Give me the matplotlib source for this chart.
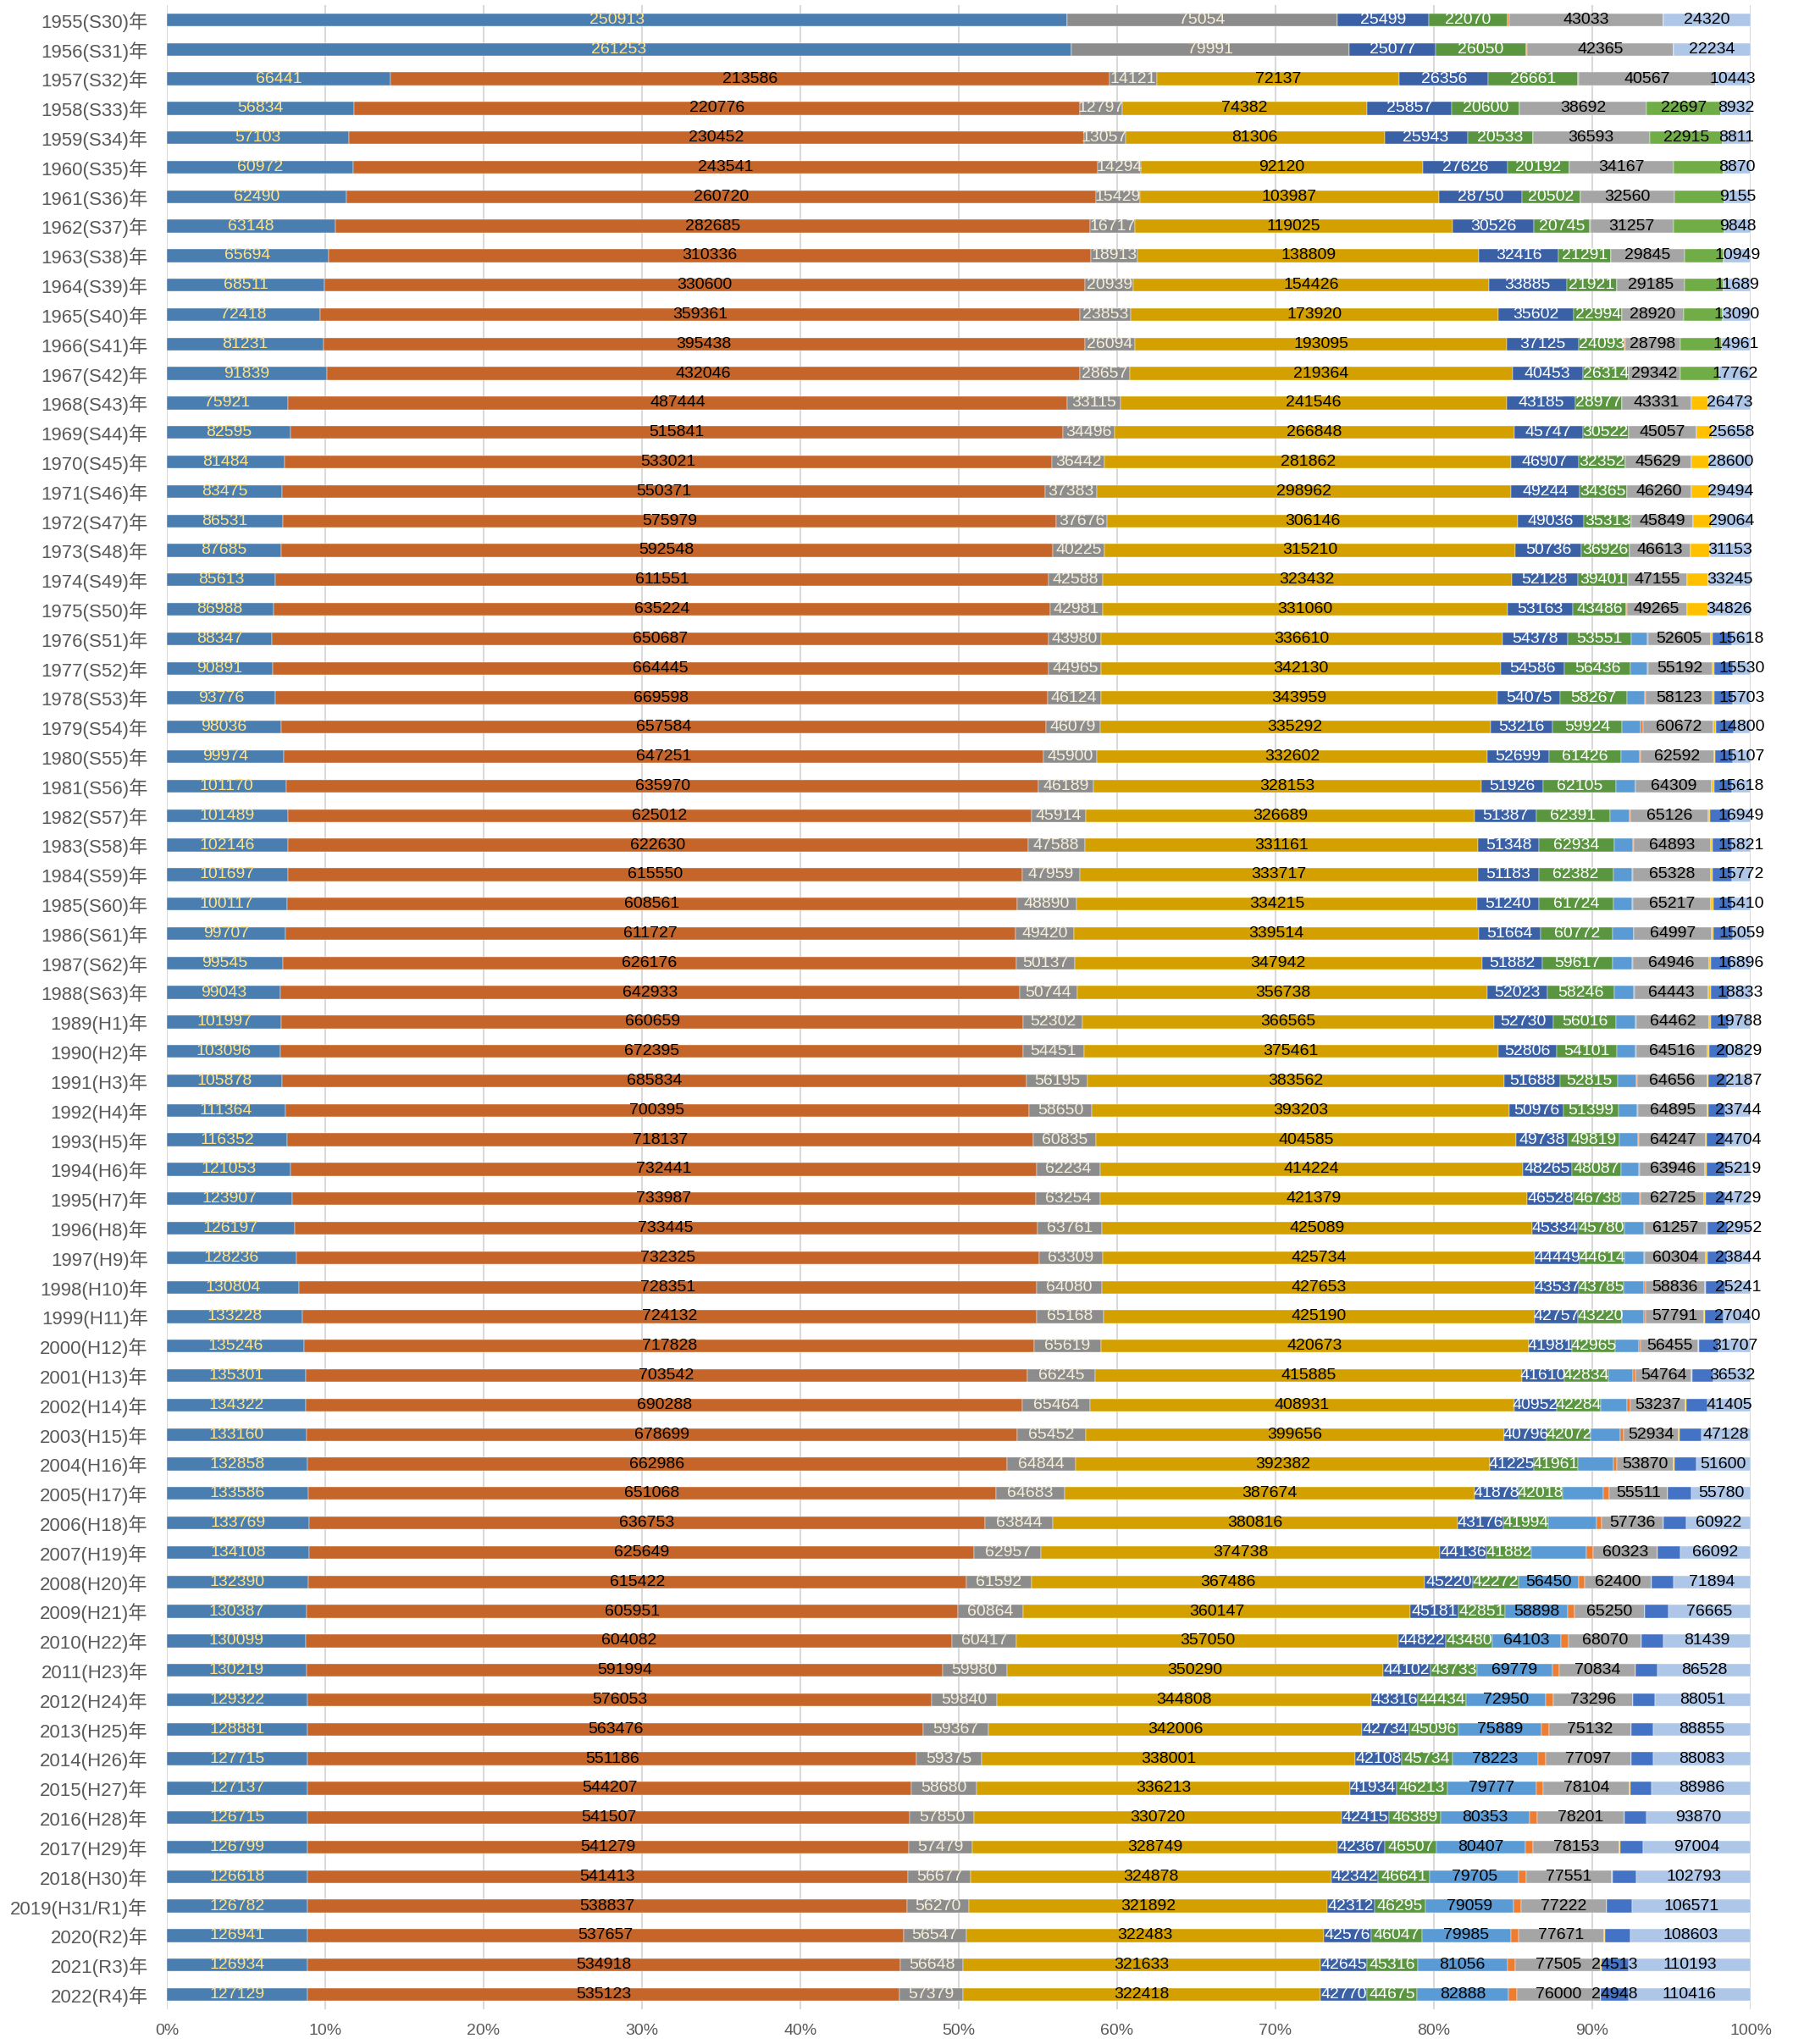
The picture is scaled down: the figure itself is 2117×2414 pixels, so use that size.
import numpy as np
import matplotlib.pyplot as plt

plt.rcParams['font.family'] = ['Liberation Sans', 'Noto Sans CJK JP', 'DejaVu Sans']

years = list(range(1955, 2023))

def era(y):
    if y <= 1988:
        return "S%d" % (y - 1925)
    if y <= 2018:
        return "H%d" % (y - 1988)
    if y == 2019:
        return "H31/R1"
    return "R%d" % (y - 2018)

year_labels = ["%d(%s)年" % (y, era(y)) for y in years]

# series values, 1955 .. 2022 (unlabeled thin pieces estimated)
s_steel = [250913, 261253, 66441, 56834, 57103, 60972, 62490, 63148, 65694, 68511, 72418, 81231, 91839,
           75921, 82595, 81484, 83475, 86531, 87685, 85613, 86988, 88347, 90891, 93776, 98036, 99974,
           101170, 101489, 102146, 101697, 100117, 99707, 99545, 99043, 101997, 103096, 105878, 111364,
           116352, 121053, 123907, 126197, 128236, 130804, 133228, 135246, 135301, 134322, 133160, 132858,
           133586, 133769, 134108, 132390, 130387, 130099, 130219, 129322, 128881, 127715, 127137, 126715,
           126799, 126618, 126782, 126941, 126934, 127129]
s_rust = [0, 0, 213586, 220776, 230452, 243541, 260720, 282685, 310336, 330600, 359361, 395438, 432046,
          487444, 515841, 533021, 550371, 575979, 592548, 611551, 635224, 650687, 664445, 669598, 657584,
          647251, 635970, 625012, 622630, 615550, 608561, 611727, 626176, 642933, 660659, 672395, 685834,
          700395, 718137, 732441, 733987, 733445, 732325, 728351, 724132, 717828, 703542, 690288, 678699,
          662986, 651068, 636753, 625649, 615422, 605951, 604082, 591994, 576053, 563476, 551186, 544207,
          541507, 541279, 541413, 538837, 537657, 534918, 535123]
s_dgray = [75054, 79991, 14121, 12797, 13057, 14294, 15429, 16717, 18913, 20939, 23853, 26094, 28657,
           33115, 34496, 36442, 37383, 37676, 40225, 42588, 42981, 43980, 44965, 46124, 46079, 45900,
           46189, 45914, 47588, 47959, 48890, 49420, 50137, 50744, 52302, 54451, 56195, 58650, 60835,
           62234, 63254, 63761, 63309, 64080, 65168, 65619, 66245, 65464, 65452, 64844, 64683, 63844,
           62957, 61592, 60864, 60417, 59980, 59840, 59367, 59375, 58680, 57850, 57479, 56677, 56270,
           56547, 56648, 57379]
s_gold = [0, 0, 72137, 74382, 81306, 92120, 103987, 119025, 138809, 154426, 173920, 193095, 219364,
          241546, 266848, 281862, 298962, 306146, 315210, 323432, 331060, 336610, 342130, 343959, 335292,
          332602, 328153, 326689, 331161, 333717, 334215, 339514, 347942, 356738, 366565, 375461, 383562,
          393203, 404585, 414224, 421379, 425089, 425734, 427653, 425190, 420673, 415885, 408931, 399656,
          392382, 387674, 380816, 374738, 367486, 360147, 357050, 350290, 344808, 342006, 338001, 336213,
          330720, 328749, 324878, 321892, 322483, 321633, 322418]
s_mblue = [25499, 25077, 26356, 25857, 25943, 27626, 28750, 30526, 32416, 33885, 35602, 37125, 40453,
           43185, 45747, 46907, 49244, 49036, 50736, 52128, 53163, 54378, 54586, 54075, 53216, 52699,
           51926, 51387, 51348, 51183, 51240, 51664, 51882, 52023, 52730, 52806, 51688, 50976, 49738,
           48265, 46528, 45334, 44449, 43537, 42757, 41981, 41610, 40952, 40796, 41225, 41878, 43176,
           44136, 45220, 45181, 44822, 44102, 43316, 42734, 42108, 41934, 42415, 42367, 42342, 42312,
           42576, 42645, 42770]
s_green = [22070, 26050, 26661, 20600, 20533, 20192, 20502, 20745, 21291, 21921, 22994, 24093, 26314,
           28977, 30522, 32352, 34365, 35313, 36926, 39401, 43486, 53551, 56436, 58267, 59924, 61426,
           62105, 62391, 62934, 62382, 61724, 60772, 59617, 58246, 56016, 54101, 52815, 51399, 49819,
           48087, 46738, 45780, 44614, 43785, 43220, 42965, 42834, 42284, 42072, 41961, 42018, 41994,
           41882, 42272, 42851, 43480, 43733, 44434, 45096, 45734, 46213, 46389, 46507, 46641, 46295,
           46047, 45316, 44675]
s_lblue = [0] * 21 + [13500, 14500, 15100, 16000, 16200, 16200, 16400, 16000, 16100, 16000, 17300, 17100,
                      17200, 17600, 17400, 16900, 17900, 18300, 17500, 18100, 18900, 18700, 20300, 21500,
                      22800, 24300, 26000, 28300, 33400, 38300, 45400, 51800, 56450, 58898, 64103, 69779,
                      72950, 75889, 78223, 79777, 80353, 80407, 79705, 79059, 79985, 81056, 82888]
s_orange = [300, 300, 300, 0, 0, 0, 0, 300, 0, 0, 0, 200, 200, 200, 200, 200, 200, 200, 200, 200, 400,
            300, 300, 500, 2200, 500, 400, 400, 400, 400, 400, 400, 400, 500, 600, 600, 600, 600, 800,
            1200, 1200, 800, 1200, 1200, 1400, 2200, 2200, 2700, 2600, 3300, 5400, 5400, 6700, 5800,
            6200, 7000, 6900, 7300, 7200, 6800, 6400, 6700, 6700, 6700, 6700, 6700, 7000, 7200]
s_lgray = [43033, 42365, 40567, 38692, 36593, 34167, 32560, 31257, 29845, 29185, 28920, 28798, 29342,
           43331, 45057, 45629, 46260, 45849, 46613, 47155, 49265, 52605, 55192, 58123, 60672, 62592,
           64309, 65126, 64893, 65328, 65217, 64997, 64946, 64443, 64462, 64516, 64656, 64895, 64247,
           63946, 62725, 61257, 60304, 58836, 57791, 56455, 54764, 53237, 52934, 53870, 55511, 57736,
           60323, 62400, 65250, 68070, 70834, 73296, 75132, 77097, 78104, 78201, 78153, 77551, 77222,
           77671, 77505, 76000]
s_bgreen = [0, 0, 0, 22697, 22915, 16400, 17500, 19000, 16100, 17200, 18700, 21400, 22700] + [0] * 55
s_yellow = [0] * 13 + [10600, 10800, 12700, 13300, 13900, 15200, 16800, 17300, 1700, 1700, 1900, 1900,
                       1400, 1700, 1900, 1700, 1900, 1600, 1600, 1900, 1700, 1800, 1600, 1300, 1000, 1000,
                       1200, 1200, 900, 1000, 800, 900, 500, 500, 500, 500, 500, 200, 300, 200, 200, 200,
                       200, 200, 200, 200, 200, 200, 200, 200, 300, 200, 200, 200, 200]
s_rblue = [0] * 21 + [16100, 15700, 15600, 15000, 14900, 15500, 17100, 16200, 15900, 16000, 16100, 16900,
                      16000, 15600, 16400, 16700, 16300, 17400, 18300, 19800, 19800, 19200, 19200, 18100,
                      19500, 20400, 21000, 21000, 20900, 22400, 21200, 21600, 20600, 21800, 20600, 20500,
                      20300, 20200, 20000, 19800, 19800, 20700, 21900, 22600, 23100, 24513, 24948]
s_pblue = [24320, 22234, 10443, 8932, 8811, 8870, 9155, 9848, 10949, 11689, 13090, 14961, 17762, 26473,
           25658, 28600, 29494, 29064, 31153, 33245, 34826, 15618, 15530, 15703, 14800, 15107, 15618,
           16949, 15821, 15772, 15410, 15059, 16896, 18833, 19788, 20829, 22187, 23744, 24704, 25219,
           24729, 22952, 23844, 25241, 27040, 31707, 36532, 41405, 47128, 51600, 55780, 60922, 66092,
           71894, 76665, 81439, 86528, 88051, 88855, 88083, 88986, 93870, 97004, 102793, 106571, 108603,
           110193, 110416]

# (values, fill colour, label colour, first..last year with a label)
series = [
    (s_steel, '#4A7EB1', '#FFE38A', 1955, 2022),
    (s_rust, '#C5652A', 'black', 1955, 2022),
    (s_dgray, '#8C8C8C', '#F6EED8', 1955, 2022),
    (s_gold, '#D4A000', 'black', 1955, 2022),
    (s_mblue, '#3A60A6', 'white', 1955, 2022),
    (s_green, '#5A9540', 'white', 1955, 2022),
    (s_lblue, '#5B9BD5', 'black', 2008, 2022),
    (s_orange, '#ED7D31', 'black', 0, 0),
    (s_lgray, '#A5A5A5', 'black', 1955, 2022),
    (s_bgreen, '#70AD47', 'black', 1958, 1959),
    (s_yellow, '#FFC000', 'black', 0, 0),
    (s_rblue, '#4472C4', 'black', 2021, 2022),
    (s_pblue, '#AEC7E8', 'black', 1955, 2022),
]

for s in series:
    assert len(s[0]) == len(years)

vals = np.array([s[0] for s in series], dtype=float)
total = vals.sum(axis=0)
pct = vals / total * 100

fig = plt.figure(figsize=(21.17, 24.14), dpi=100)
ax = fig.add_axes([0.093, 0.017, 0.8834, 0.9805])

y = np.arange(len(years))
left = np.zeros(len(years))
for i, (v, col, lcol, y0, y1) in enumerate(series):
    bars = ax.barh(y, pct[i], left=left, height=0.44, color=col, edgecolor='white', linewidth=0.3, zorder=2)
    labels = []
    for yr, val in zip(years, v):
        labels.append(str(val) if (val > 0 and y0 <= yr <= y1) else '')
    ax.bar_label(bars, labels=labels, label_type='center', color=lcol, fontsize=14, zorder=3)
    left += pct[i]

ax.set_xlim(0, 100)
ax.set_ylim(len(years) - 0.5, -0.5)
ax.set_xticks(np.arange(0, 101, 10))
ax.set_xticklabels(["%d%%" % t for t in range(0, 101, 10)], fontsize=14, color='#595959')
ax.set_yticks(y)
ax.set_yticklabels(year_labels, fontsize=16, color='#595959')
ax.tick_params(axis='both', length=0)
ax.tick_params(axis='y', pad=16)
ax.tick_params(axis='x', pad=12)
ax.grid(axis='x', color='#D9D9D9', linewidth=1.5, zorder=0)
ax.set_axisbelow(True)
for sp in ax.spines.values():
    sp.set_visible(False)

fig.savefig('out.png', dpi=100)
